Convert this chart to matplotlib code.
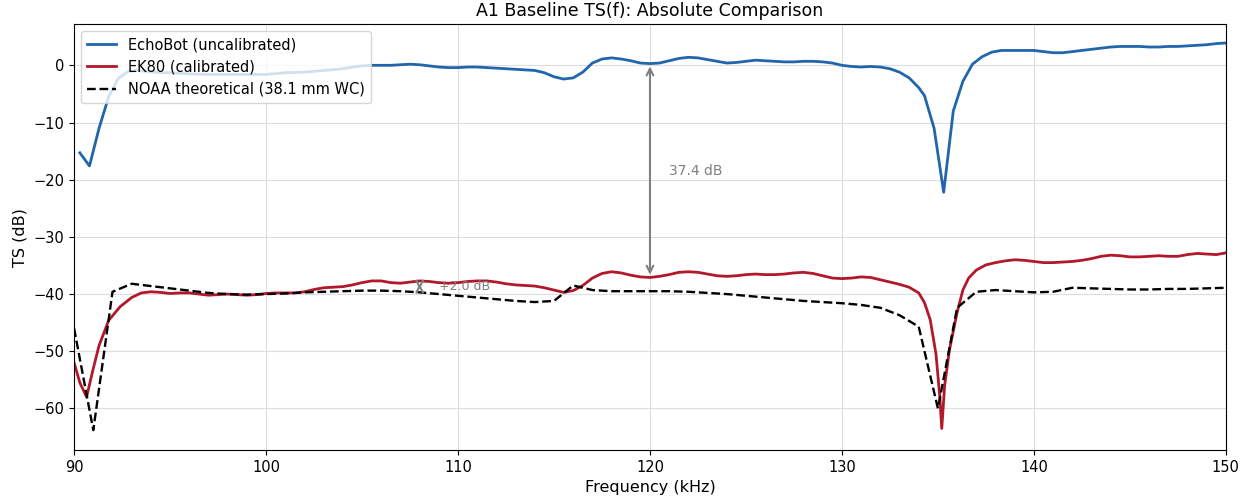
import numpy as np
import matplotlib
matplotlib.use("Agg")
import matplotlib.pyplot as plt

# EchoBot, uncalibrated (kHz, dB)
echo_f = [90.3, 90.8, 91.3, 91.8, 92.3, 92.8, 93.3, 93.8, 94.5, 95.0, 96.0, 97.0, 98.0, 99.0,
          100.0, 101.0, 102.0, 103.0, 104.0, 104.5, 105.0, 105.5, 106.0, 106.5, 107.0, 107.5,
          108.0, 108.5, 109.0, 109.5, 110.0, 110.5, 111.0, 111.5, 112.0, 112.5, 113.0, 113.5,
          114.0, 114.5, 115.0, 115.5, 116.0, 116.5, 117.0, 117.5, 118.0, 118.5, 119.0, 119.5,
          120.0, 120.5, 121.0, 121.5, 122.0, 122.5, 123.0, 123.5, 124.0, 124.5, 125.0, 125.5,
          126.0, 126.5, 127.0, 127.5, 128.0, 128.5, 129.0, 129.5, 130.0, 130.5, 131.0, 131.5,
          132.0, 132.5, 133.0, 133.5, 134.0, 134.3, 134.8, 135.3, 135.8, 136.3, 136.8, 137.3,
          137.8, 138.3, 139.0, 140.0, 140.5, 141.0, 141.5, 142.0, 142.5, 143.0, 143.5, 144.0,
          144.5, 145.0, 145.5, 146.0, 146.5, 147.0, 147.5, 148.0, 148.5, 149.0, 149.5, 150.0]
echo_ts = [-15.3, -17.6, -11.0, -5.5, -2.3, -1.1, -0.9, -1.1, -1.3, -1.3, -1.5, -1.6, -1.6, -1.6,
           -1.6, -1.3, -1.2, -0.9, -0.6, -0.3, -0.1, 0.0, 0.0, 0.0, 0.1, 0.2,
           0.1, -0.1, -0.3, -0.4, -0.4, -0.3, -0.3, -0.4, -0.5, -0.6, -0.7, -0.8,
           -0.9, -1.3, -2.0, -2.4, -2.2, -1.2, 0.4, 1.1, 1.3, 1.1, 0.8, 0.4,
           0.3, 0.4, 0.8, 1.2, 1.4, 1.3, 1.0, 0.7, 0.4, 0.5, 0.7, 0.9,
           0.8, 0.7, 0.6, 0.6, 0.7, 0.7, 0.6, 0.4, 0.0, -0.2, -0.3, -0.2,
           -0.3, -0.6, -1.2, -2.2, -3.9, -5.3, -11.0, -22.2, -8.0, -2.8, 0.2, 1.5,
           2.3, 2.6, 2.6, 2.6, 2.4, 2.2, 2.2, 2.4, 2.6, 2.8, 3.0, 3.2,
           3.3, 3.3, 3.3, 3.2, 3.2, 3.3, 3.3, 3.4, 3.5, 3.6, 3.8, 3.9]

# EK80, calibrated
ek80_f = [90.0, 90.3, 90.65, 91.0, 91.3, 91.8, 92.4, 93.0, 93.5, 94.0, 94.5, 95.0, 95.5, 96.0,
          96.5, 97.0, 97.5, 98.0, 98.5, 99.0, 99.5, 100.0, 100.5, 101.0, 101.5, 102.0, 102.5,
          103.0, 103.5, 104.0, 104.5, 105.0, 105.5, 106.0, 106.5, 107.0, 107.5, 108.0, 108.5,
          109.0, 109.5, 110.0, 110.5, 111.0, 111.5, 112.0, 112.5, 113.0, 113.5, 114.0, 114.5,
          115.0, 115.5, 116.0, 116.5, 117.0, 117.5, 118.0, 118.5, 119.0, 119.5, 120.0, 120.5,
          121.0, 121.5, 122.0, 122.5, 123.0, 123.5, 124.0, 124.5, 125.0, 125.5, 126.0, 126.5,
          127.0, 127.5, 128.0, 128.5, 129.0, 129.5, 130.0, 130.5, 131.0, 131.5, 132.0, 132.5,
          133.0, 133.5, 134.0, 134.3, 134.6, 134.9, 135.1, 135.2, 135.35, 135.6, 136.0, 136.3,
          136.6, 137.0, 137.5, 138.0, 138.5, 139.0, 139.5, 140.0, 140.5, 141.0, 141.5, 142.0,
          142.5, 143.0, 143.5, 144.0, 144.5, 145.0, 145.5, 146.0, 146.5, 147.0, 147.5, 148.0,
          148.5, 149.0, 149.5, 150.0]
ek80_ts = [-52.0, -55.5, -58.0, -53.0, -49.0, -44.6, -42.2, -40.6, -39.8, -39.6, -39.7, -39.9, -39.8, -39.8,
           -40.0, -40.2, -40.1, -40.0, -40.1, -40.2, -40.1, -39.9, -39.8, -39.8, -39.8, -39.6, -39.2,
           -38.9, -38.8, -38.7, -38.4, -38.0, -37.7, -37.7, -38.0, -38.1, -37.9, -37.7, -37.8,
           -38.0, -38.1, -38.0, -37.8, -37.7, -37.7, -37.9, -38.2, -38.4, -38.5, -38.6, -38.9,
           -39.3, -39.7, -39.4, -38.5, -37.2, -36.4, -36.1, -36.3, -36.7, -37.0, -37.1, -36.9,
           -36.6, -36.2, -36.1, -36.2, -36.5, -36.8, -36.9, -36.8, -36.6, -36.5, -36.6, -36.6,
           -36.5, -36.3, -36.2, -36.4, -36.8, -37.2, -37.3, -37.2, -37.0, -37.1, -37.5, -37.9,
           -38.3, -38.8, -39.8, -41.5, -44.5, -50.5, -58.0, -63.5, -56.0, -49.8, -43.2, -39.3,
           -37.2, -35.8, -34.9, -34.5, -34.2, -34.0, -34.1, -34.3, -34.5, -34.5, -34.4, -34.3,
           -34.1, -33.8, -33.4, -33.2, -33.3, -33.5, -33.5, -33.4, -33.3, -33.4, -33.4, -33.1,
           -32.9, -33.0, -33.1, -32.8]

# NOAA theoretical, 38.1 mm WC sphere, 1 kHz steps
noaa_f = list(range(90, 151))
noaa_ts = [-46.0, -63.8, -39.6, -38.2, -38.6, -39.0, -39.4, -39.8, -40.0, -40.1,
           -40.0, -39.9, -39.7, -39.6, -39.5, -39.4, -39.4, -39.5, -39.7, -40.0,
           -40.3, -40.6, -40.9, -41.2, -41.4, -41.2, -38.5, -39.3, -39.5, -39.5,
           -39.5, -39.5, -39.6, -39.8, -40.0, -40.3, -40.6, -40.9, -41.2, -41.4,
           -41.6, -41.9, -42.4, -43.7, -45.7, -60.0, -42.4, -39.6, -39.3, -39.5,
           -39.7, -39.6, -38.9, -39.0, -39.1, -39.2, -39.2, -39.1, -39.1, -39.0,
           -38.9]

# frequencies where the gaps are marked
gap_echo_f = 120.0
gap_noaa_f = 108.0

fig = plt.figure(figsize=(12.56, 5.03), dpi=100)
ax = fig.add_axes([0.059, 0.105, 0.917, 0.847])

ax.plot(echo_f, echo_ts, color='#2166ac', lw=2, label='EchoBot (uncalibrated)')
ax.plot(ek80_f, ek80_ts, color='#b2182b', lw=2, label='EK80 (calibrated)')
ax.plot(noaa_f, noaa_ts, color='black', lw=1.7, ls='--', label='NOAA theoretical (38.1 mm WC)')

arrow = dict(arrowstyle='<->', color='gray', lw=1.5, mutation_scale=12)

# EchoBot vs EK80 offset
e1 = echo_ts[echo_f.index(gap_echo_f)]
k1 = ek80_ts[ek80_f.index(gap_echo_f)]
ax.annotate('', xy=(gap_echo_f, k1), xytext=(gap_echo_f, e1), arrowprops=arrow)
ax.text(gap_echo_f + 1, (e1 + k1) / 2, f'{e1 - k1:.1f} dB', color='gray',
        fontsize=10, va='center', ha='left')

# EK80 vs theory offset
k2 = ek80_ts[ek80_f.index(gap_noaa_f)]
n2 = noaa_ts[noaa_f.index(int(gap_noaa_f))]
ax.annotate('', xy=(gap_noaa_f, k2), xytext=(gap_noaa_f, n2), arrowprops=arrow)
ax.text(gap_noaa_f + 1, (k2 + n2) / 2, f'{k2 - n2:+.1f} dB', color='gray',
        fontsize=9, va='center', ha='left')

ax.set_xlim(90, 150)
ax.set_ylim(-67.3, 7.2)
ax.set_xticks(range(90, 151, 10))
ax.set_yticks(range(-60, 1, 10))
ax.tick_params(labelsize=10.5)
ax.grid(True, color='#dddddd', lw=0.8)
ax.set_xlabel('Frequency (kHz)', fontsize=11.5)
ax.set_ylabel('TS (dB)', fontsize=11.5)
ax.set_title('A1 Baseline TS(f): Absolute Comparison', fontsize=12.5)
ax.legend(loc='upper left', fontsize=10.5)

fig.savefig('out.png', dpi=100)
